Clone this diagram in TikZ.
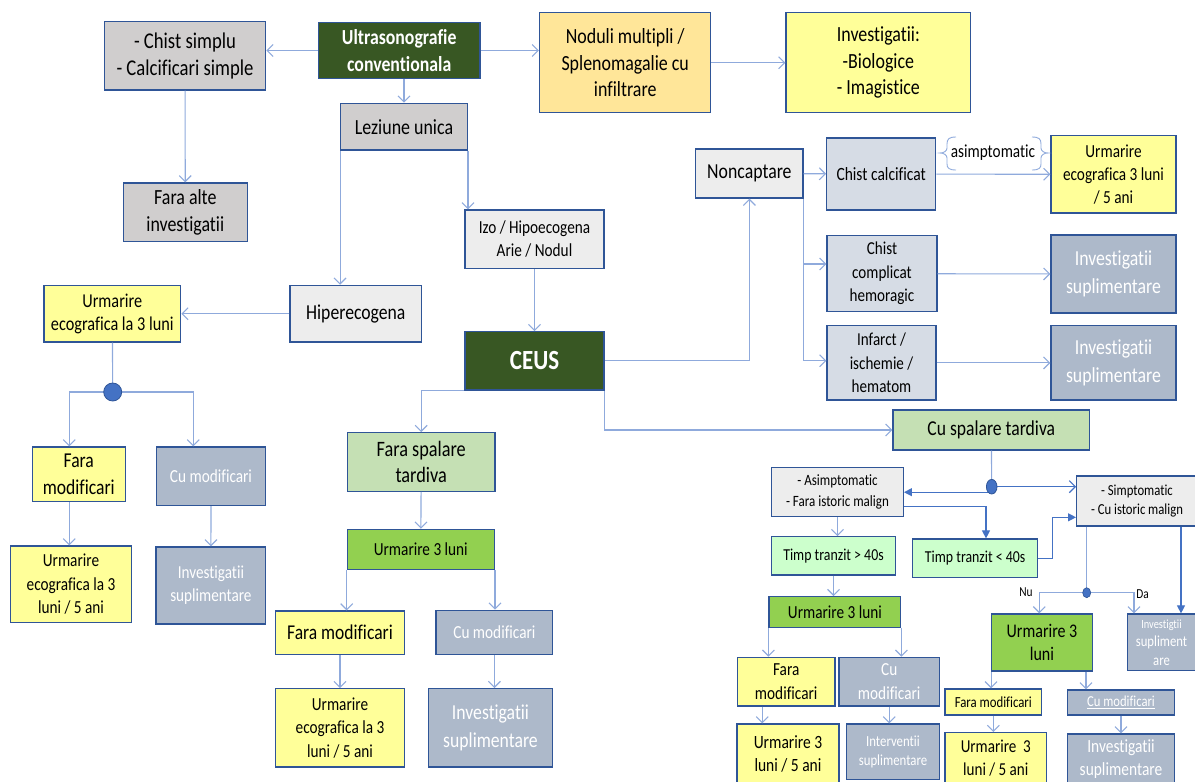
\documentclass[tikz,border=0pt]{standalone}
\usepackage{fontspec}
\setmainfont{Carlito}[FakeStretch=0.83,Ligatures=NoCommon]
\usetikzlibrary{arrows.meta,calc}

\definecolor{cborder}{RGB}{47,85,151}
\definecolor{clink}{RGB}{143,170,220}
\definecolor{cdot}{RGB}{68,114,196}
\definecolor{cdark}{RGB}{56,87,35}
\definecolor{cgray}{RGB}{208,206,206}
\definecolor{clight}{RGB}{237,237,237}
\definecolor{cblue}{RGB}{214,220,229}
\definecolor{cslate}{RGB}{173,185,202}
\definecolor{cyellow}{RGB}{255,255,153}
\definecolor{corange}{RGB}{255,230,153}
\definecolor{cgreen}{RGB}{146,208,80}
\definecolor{clgreen}{RGB}{197,224,180}
\definecolor{cmint}{RGB}{204,255,204}

\tikzset{every picture/.style={line width=0.75pt}}
\tikzset{
  box/.style={draw=cborder, line width=1.3pt, align=center, inner sep=1pt, text=black},
  slatebox/.style={box, fill=cslate, text=white},
  arr/.style={draw=clink, line width=1.1pt, -{Straight Barb[length=6pt,width=12pt]}},
  arrd/.style={draw=cdot, line width=1.1pt, -{Triangle[length=8pt,width=8pt]}},
  link/.style={draw=clink, line width=1.1pt},
  fA/.style={font=\fontsize{21.6}{26.7}\selectfont},
  fB/.style={font=\fontsize{18.4}{23.3}\selectfont},
  fC/.style={font=\fontsize{15.4}{19.3}\selectfont},
  fT/.style={font=\fontsize{16.7}{20}\selectfont},
  fU/.style={font=\fontsize{19.6}{23.3}\selectfont},
  fN/.style={font=\fontsize{13.7}{16}\selectfont},
  fBold/.style={font=\fontsize{21.4}{26.7}\selectfont\bfseries},
  fCeus/.style={font=\fontsize{27.7}{30}\selectfont\bfseries},
}

\begin{document}
\begin{tikzpicture}[x=1pt,y=1pt,yscale=-1,xscale=1]
    \useasboundingbox (0,0) rectangle (1195,782);

    % Top row
    \node[box, fill=cdark, text=white, fBold, minimum width=161.7, minimum height=55.6] (ultra) at (399.2,50.5) {Ultrasonografie\\conventionala};
    \node[box, fill=cgray, font=\fontsize{22.5}{26.7}\selectfont, minimum width=161.4, minimum height=68.3] (chist) at (185,55.9) {- Chist simplu\\- Calcificari simple};
    \node[box, fill=corange, fA, minimum width=171.2, minimum height=100] (noduli) at (625.2,62.7) {Noduli multipli /\\Splenomagalie cu\\infiltrare};
    \node[box, fill=cyellow, fA, minimum width=184.8, minimum height=100] (invest) at (878.4,62.7) {Investigatii:\\-Biologice\\- Imagistice};
    \node[box, fill=cgray, fA, minimum width=124, minimum height=58.7] (faraalte) at (185.3,212.3) {Fara alte\\investigatii};
    \node[box, fill=cgray, fA, minimum width=126.6, minimum height=46.7] (leziune) at (404,126.7) {Leziune unica};
    \node[box, fill=clight, fB, minimum width=139, minimum height=58.3] (izo) at (534.5,239.2) {Izo / Hipoecogena\\Arie / Nodul};

    % Left branch
    \node[box, fill=clight, font=\fontsize{21.3}{26}\selectfont, minimum width=131.7, minimum height=56.7] (hiper) at (355.8,313.7) {Hiperecogena};
    \node[box, fill=cyellow, fU, minimum width=136.7, minimum height=56.7] (urmL) at (112.3,313.7) {Urmarire\\ecografica la 3 luni};
    \coordinate (dotL) at (112.7,392);
    \node[box, fill=cyellow, font=\fontsize{21.2}{26.7}\selectfont, minimum width=93, minimum height=54.3] (faraL) at (78.8,474.2) {Fara\\modificari};
    \node[slatebox, fB, minimum width=108.6, minimum height=58.3] (cuL) at (211,476.2) {Cu modificari};
    \node[box, fill=cyellow, font=\fontsize{18.4}{23.7}\selectfont, minimum width=120.6, minimum height=76.3] (urmLb) at (71,584.2) {Urmarire\\ecografica la 3\\luni / 5 ani};
    \node[slatebox, font=\fontsize{18.3}{22.7}\selectfont, minimum width=109.7, minimum height=77] (invL) at (210.9,585.5) {Investigatii\\suplimentare};

    % CEUS and middle branch
    \node[box, fill=cdark, text=white, fCeus, minimum width=139, minimum height=58.3] (ceus) at (534.5,360.9) {CEUS};
    \node[box, fill=clgreen, font=\fontsize{22}{26.7}\selectfont, minimum width=147.7, minimum height=58.6] (faraSp) at (421.2,462) {Fara spalare\\tardiva};
    \node[box, fill=cgreen, fB, minimum width=147, minimum height=40.4] (urmM) at (420.8,549.5) {Urmarire 3 luni};
    \node[box, fill=cyellow, font=\fontsize{21.1}{26}\selectfont, minimum width=128.6, minimum height=43.3] (faraM) at (340,632.7) {Fara modificari};
    \node[slatebox, fB, minimum width=116.7, minimum height=44] (cuM) at (494.4,632.3) {Cu modificari};
    \node[box, fill=cyellow, font=\fontsize{18.4}{23.7}\selectfont, minimum width=128.6, minimum height=78.3] (urmMb) at (340,727.9) {Urmarire\\ecografica la 3\\luni / 5 ani};
    \node[slatebox, font=\fontsize{21.3}{27.3}\selectfont, minimum width=124.4, minimum height=78.3] (invM) at (490.5,727.9) {Investigatii\\suplimentare};

    % Noncaptare branch
    \node[box, fill=clight, font=\fontsize{21.4}{26}\selectfont, minimum width=107.3, minimum height=49] (noncap) at (749.4,173.5) {Noncaptare};
    \node[box, fill=cblue, font=\fontsize{18.7}{23.3}\selectfont, minimum width=109, minimum height=72] (calcif) at (881.2,174) {Chist calcificat};
    \node[box, fill=cyellow, fB, minimum width=125, minimum height=77.3] (urmR) at (1113.5,174.4) {Urmarire\\ecografica 3 luni\\/ 5 ani};
    \node[box, fill=cblue, font=\fontsize{18.2}{23.5}\selectfont, minimum width=110, minimum height=76] (complic) at (882,273.7) {Chist\\complicat\\hemoragic};
    \node[slatebox, font=\fontsize{21.4}{27.3}\selectfont, minimum width=125, minimum height=78] (invR1) at (1113.5,274) {Investigatii\\suplimentare};
    \node[box, fill=cblue, font=\fontsize{18.2}{23.3}\selectfont, minimum width=109, minimum height=74.3] (infarct) at (881.5,362.9) {Infarct /\\ischemie /\\hematom};
    \node[slatebox, font=\fontsize{21.4}{27.3}\selectfont, minimum width=125, minimum height=74.3] (invR2) at (1113.5,362.9) {Investigatii\\suplimentare};
    \node[fB, inner sep=0pt] (asimLbl) at (993,153) {asimptomatic};

    % Cu spalare tardiva branch
    \node[box, fill=clgreen, font=\fontsize{21.2}{26}\selectfont, minimum width=196.6, minimum height=40] (cuSp) at (991.3,430) {Cu spalare tardiva};
    \coordinate (dotR) at (991.7,486.7);
    \node[box, fill=clight, font=\fontsize{15.7}{21}\selectfont, minimum width=131.6, minimum height=49] (asim) at (837.5,492.2) {- Asimptomatic\\- Fara istoric malign};
    \node[box, fill=clight, font=\fontsize{15.3}{19.3}\selectfont, minimum width=120.6, minimum height=50] (simp) at (1137,501) {- Simptomatic\\- Cu istoric malign};
    \node[box, fill=cmint, fT, minimum width=123.6, minimum height=38.3] (timpG) at (833.5,555.9) {Timp tranzit > 40s};
    \node[box, fill=cmint, fT, minimum width=125, minimum height=38.3] (timpL) at (975.2,558.2) {Timp tranzit < 40s};
    \node[box, fill=cgreen, fB, minimum width=131.7, minimum height=31] (urmR3) at (834.9,612.2) {Urmarire 3 luni};
    \node[box, fill=cyellow, fB, minimum width=97.7, minimum height=48.7] (faraR) at (786.2,681.7) {Fara\\modificari};
    \node[slatebox, fB, minimum width=100.3, minimum height=48.7] (cuR) at (889.2,681.7) {Cu\\modificari};
    \node[box, fill=cyellow, font=\fontsize{18.7}{23.3}\selectfont, minimum width=102, minimum height=60] (urmRb) at (788,754) {Urmarire 3\\luni / 5 ani};
    \node[slatebox, fC, minimum width=92.6, minimum height=55.3] (interv) at (893,751.7) {Interventii\\suplimentare};
    \coordinate (dotS) at (1086.7,592.7);
    \node[box, fill=cgreen, font=\fontsize{19.3}{23.3}\selectfont, minimum width=100.6, minimum height=57] (urmS) at (1042,642.5) {Urmarire 3\\luni};
    \node[slatebox, font=\fontsize{15.3}{18.5}\selectfont, minimum width=68.4, minimum height=56.5] (invS) at (1161.5,642.3) {{\fontsize{12.5}{14}\selectfont Investigtii}\\supliment\\are};
    \node[box, fill=cyellow, fC, minimum width=96.7, minimum height=26] (faraS) at (993.3,702) {Fara modificari};
    \node[slatebox, font=\fontsize{15.2}{18}\selectfont, minimum width=106.6, minimum height=25] (cuS) at (1121,702.5) {\underline{Cu modificari}};
    \node[box, fill=cyellow, font=\fontsize{18.2}{22.7}\selectfont, minimum width=101.7, minimum height=51.3] (urmSb) at (995.8,758.3) {Urmarire\ \ 3\\luni / 5 ani};
    \node[slatebox, font=\fontsize{18.6}{23}\selectfont, minimum width=106.6, minimum height=50] (invSb) at (1121,759) {Investigatii\\suplimentare};
    \node[fN, inner sep=0pt] (nuLbl) at (1026,592.3) {Nu};
    \node[fN, inner sep=0pt] (daLbl) at (1142.7,594) {Da};

    %Straight Lines: top
    \draw[arr] (ultra.west) -- (ultra.west -| chist.east);
    \draw[arr] (ultra.east) -- (ultra.east -| noduli.west);
    \draw[arr] (leziune.north |- ultra.south) -- (leziune.north);
    \draw[arr] (noduli) -- (invest);
    \draw[arr] (chist) -- (faraalte);
    \draw[arr] (leziune.south west) -- (leziune.south west |- hiper.north);
    \draw[arr] (leziune.south east) -- (leziune.south east |- izo.north);
    \draw[arr] (izo) -- (ceus);

    %Straight Lines: left branch
    \draw[arr] (hiper) -- (urmL);
    \draw[link] (urmL) -- (dotL);
    \draw[arr] (dotL) -| ([xshift=-9.5pt]faraL.north);
    \draw[arr] (dotL) -| ([xshift=-17.7pt]cuL.north);
    \draw[arr] ([xshift=-9.5pt]faraL.south) -- ([xshift=-9.5pt]faraL.south |- urmLb.north);
    \draw[arr] (cuL) -- (invL);

    %Straight Lines: CEUS
    \draw[arr] (ceus.south west) -| (faraSp.north);
    \draw[arr] (ceus.south east) |- (cuSp.west);
    \draw[arr] (ceus.east) -| (noncap.south);
    \draw[arr] (faraSp) -- (urmM);
    \draw[arr] (urmM.south west) -- (urmM.south west |- faraM.north);
    \draw[arr] (urmM.south east) -- (urmM.south east |- cuM.north);
    \draw[arr] (faraM) -- (urmMb);
    \draw[arr] (cuM.south) -- (cuM.south |- invM.north);

    %Straight Lines: noncaptare
    \draw[arr] (noncap) -- (calcif);
    \draw[arr] (noncap.south east) |- ($(complic.west)+(0,-9.7)$);
    \draw[arr] (noncap.south east) |- ($(infarct.west)+(0,-2.2)$);
    \draw[arr] (calcif) -- (urmR);
    \draw[arr] (complic) -- (invR1);
    \draw[arr] (infarct) -- (invR2);

    %Curve Lines: braces round the label
    \draw[link, line width=0.9pt] (956,137) .. controls (949,137) and (947,139) .. (947,144) -- (947,148) .. controls (947,151) and (944,153) .. (940,153) .. controls (944,153) and (947,155) .. (947,158) -- (947,164) .. controls (947,168) and (949,170) .. (956,170);
    \draw[link, line width=0.9pt] (1032,137) .. controls (1039,137) and (1041,139) .. (1041,144) -- (1041,148) .. controls (1041,151) and (1044,153) .. (1048,153) .. controls (1044,153) and (1041,155) .. (1041,158) -- (1041,164) .. controls (1041,168) and (1039,170) .. (1032,170);

    %Straight Lines: cu spalare tardiva
    \draw[link] (cuSp) -- (dotR);
    \draw[arrd] (dotR |- asim.east) -- (asim.east);
    \draw[draw=cdot, line width=1.1pt, -{Straight Barb[length=6pt,width=12pt]}] (dotR) -- (dotR -| simp.west);
    \draw[arrd] ($(asim.east)+(0,14.5)$) -| ([xshift=10.8pt]timpL.north);
    \draw[arr] (asim.south) -- (asim.south |- timpG.north);
    \draw[arrd] (timpL.east) -- ++(14,0) |- ($(simp.west)+(0,16.3)$);
    \draw[arr] (timpG.south) -- (timpG.south |- urmR3.north);
    \draw[arr] (urmR3.south west) -- (urmR3.south west |- faraR.north);
    \draw[arr] (urmR3.south east) -- (urmR3.south east |- cuR.north);
    \draw[arr] ([xshift=-24pt]faraR.south) -- ([xshift=-24pt]faraR.south |- urmRb.north);
    \draw[arr] (cuR.south) -- (cuR.south |- interv.north);
    \draw[link] (simp.south -| dotS) -- (dotS);
    \draw[arr] (dotS) -| ([xshift=-2.7pt]urmS.north);
    \draw[arr] (dotS) -| ([xshift=-27.5pt]invS.north);
    \draw[arrd] ([xshift=44pt]simp.south) -- ([xshift=44pt]simp.south |- invS.north);
    \draw[arr] (urmS.south west) -- (urmS.south west |- faraS.north);
    \draw[arr] ([xshift=44pt]urmS.south) -- ([xshift=44pt]urmS.south |- cuS.north);
    \draw[arr] (faraS.south) -- (faraS.south |- urmSb.north);
    \draw[arr] (cuS) -- (invSb);

    % Dots
    \filldraw[fill=cdot, draw=cborder, line width=0.8pt] (dotL) circle (9);
    \filldraw[fill=cdot, draw=cborder, line width=0.8pt] (dotR) ellipse (5.3 and 7.3);
    \filldraw[fill=cdot, draw=cborder, line width=0.6pt] (dotS) ellipse (4 and 5);
\end{tikzpicture}
\end{document}
